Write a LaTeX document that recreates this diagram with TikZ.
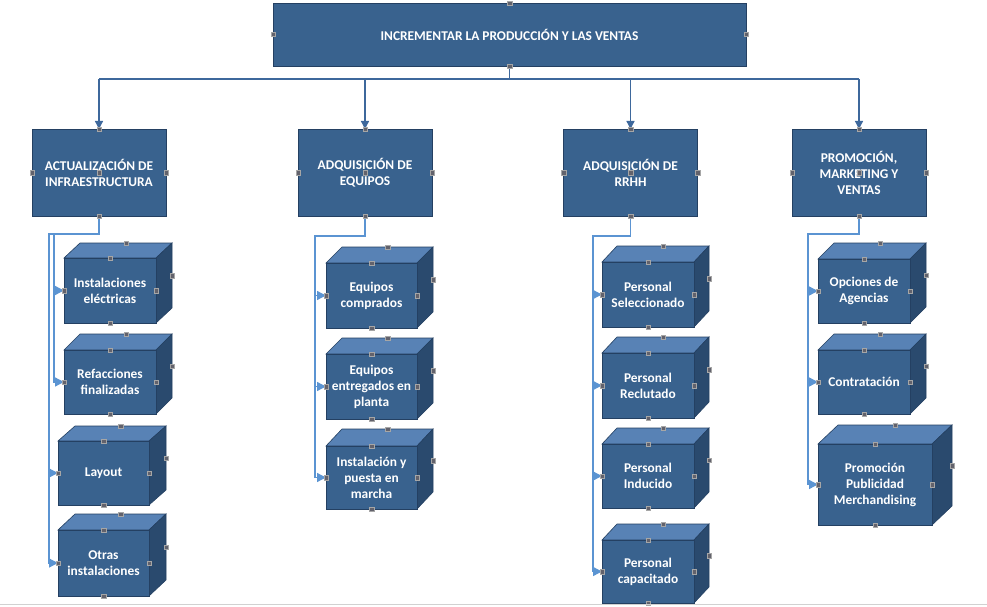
\documentclass[tikz,border=0pt]{standalone}
\usepackage{fontspec}
\setmainfont{Carlito}
\usetikzlibrary{arrows.meta}

\definecolor{faceblue}{RGB}{57,98,142}
\definecolor{topblue}{RGB}{88,130,181}
\definecolor{sideblue}{RGB}{42,74,110}
\definecolor{edgeblue}{RGB}{36,64,98}
\definecolor{mainlink}{RGB}{62,104,156}
\definecolor{sublink}{RGB}{91,148,210}
\definecolor{handlegray}{RGB}{98,98,108}

% small selection handle, centred on an anchor or on a coordinate
\newcommand{\handle}[1]{\fill[handlegray,draw=black!35,line width=0.4pt] ([shift={(-2.2,-2.2)}]#1) rectangle ++(4.4,4.4);}
\newcommand{\handleat}[2]{\fill[handlegray,draw=black!35,line width=0.4pt] ({#1-2.2},{#2-2.2}) rectangle ++(4.4,4.4);}

% 3-D block: name, x1, y1, x2, y2 (front face), depth dx, dy, text
\newcommand{\cubebox}[8]{%
  \fill[topblue,draw=edgeblue,line width=0.6pt] (#2,#3) -- ++(#6,-#7) -- ({#4+#6},{#3-#7}) -- (#4,#3) -- cycle;
  \fill[sideblue,draw=edgeblue,line width=0.6pt] (#4,#3) -- ++(#6,-#7) -- ({#4+#6},{#5-#7}) -- (#4,#5) -- cycle;
  \node[face, minimum width={(#4-#2)*1pt}, minimum height={(#5-#3)*1pt}] (#1) at ({(#2+#4)/2},{(#3+#5)/2}) {#8};
}
% handles of a 3-D block, drawn once all connectors are in place
\newcommand{\cubehandles}[7]{%
  \handle{#1.north}\handle{#1.south}\handle{#1.west}\handle{#1.east}
  \handleat{(#2+#4)/2+#6}{#3-#7}
  \handleat{#4+#6}{(#3+#5)/2-#7}
}

\tikzset{
  txt/.style={text=white, font=\fontsize{13.4}{16}\selectfont\bfseries, align=center},
  face/.style={txt, rectangle, fill=faceblue, draw=edgeblue, line width=0.6pt, inner sep=0pt, outer sep=0pt},
  goalbox/.style={face, minimum width=473pt, minimum height=63pt},
  areabox/.style={face, minimum width=134pt, minimum height=87pt},
  mainline/.style={draw=mainlink, line width=1.3pt},
  mainarrow/.style={mainline, -{Triangle[length=8pt,width=8pt]}},
  subarrow/.style={draw=sublink, line width=1.3pt, -{Triangle[length=9pt,width=9pt]}}
}

\begin{document}
\begin{tikzpicture}[x=1pt,y=-1pt]
\fill[white] (0,0) rectangle (987,607);
\useasboundingbox (0,0) rectangle (987,607);

% goal and the four areas
\node[goalbox] (goal) at (509.5,34.5) {INCREMENTAR LA PRODUCCIÓN Y LAS VENTAS};
\node[areabox] (p1) at (99,172.5) {ACTUALIZACIÓN DE\\INFRAESTRUCTURA};
\node[areabox] (p2) at (365,172.5) {ADQUISICIÓN DE\\EQUIPOS};
\node[areabox] (p3) at (630.5,172.5) {ADQUISICIÓN DE\\RRHH};
\node[areabox] (p4) at (859,172.5) {PROMOCIÓN,\\MARKETING Y\\VENTAS};

% distribution bar under the goal
\coordinate (bar) at (0,79);
\draw[mainline] (goal.south) -- (goal.south |- bar);
\draw[mainline] (p1.north |- bar) -- (p4.north |- bar);
\foreach \p in {p1,p2,p3,p4}{
  \draw[mainarrow] (\p.north |- bar) -- (\p.north);
}

% blocks of each area
\cubebox{k11}{64}{258}{156}{323}{16}{15}{Instalaciones\\eléctricas}
\cubebox{k12}{64}{350}{156}{414}{16}{16}{Refacciones\\finalizadas}
\cubebox{k13}{58}{441}{149}{505}{17}{15}{Layout}
\cubebox{k14}{58}{530}{149}{596}{17}{16}{Otras\\instalaciones}

\cubebox{k21}{326}{263}{417}{328}{16}{16}{Equipos\\comprados}
\cubebox{k22}{326}{354}{417}{419}{16}{16}{Equipos\\entregados en\\planta}
\cubebox{k23}{326}{446}{417}{509}{16}{17}{Instalación y\\puesta en\\marcha}

\cubebox{k31}{602}{262}{694}{327}{15}{16}{Personal\\Seleccionado}
\cubebox{k32}{602}{353}{694}{418}{15}{16}{Personal\\Reclutado}
\cubebox{k33}{602}{444}{694}{508}{15}{16}{Personal\\Inducido}
\cubebox{k34}{602}{540}{694}{603}{15}{16}{Personal\\capacitado}

\cubebox{k41}{818}{259}{910}{323}{16}{16}{Opciones de\\Agencias}
\cubebox{k42}{818}{350}{910}{414}{16}{16}{Contratación}
\cubebox{k43}{818}{444}{932}{525}{20}{19}{Promoción\\Publicidad\\Merchandising}

% elbow connectors from each area to its blocks
\coordinate (b1a) at (54,234);
\coordinate (b1b) at (49,234);
\coordinate (b2) at (315,236);
\coordinate (b3) at (593,236);
\coordinate (b4) at (808,234);
\draw[subarrow] (p1.south) |- (b1a) |- (k11.west);
\draw[subarrow] (p1.south) |- (b1a) |- (k12.west);
\draw[subarrow] (p1.south) |- (b1b) |- (k13.west);
\draw[subarrow] (p1.south) |- (b1b) |- (k14.west);
\foreach \k in {k21,k22,k23}{\draw[subarrow] (p2.south) |- (b2) |- (\k.west);}
\foreach \k in {k31,k32,k33,k34}{\draw[subarrow] (p3.south) |- (b3) |- (\k.west);}
\foreach \k in {k41,k42,k43}{\draw[subarrow] (p4.south) |- (b4) |- (\k.west);}

% handles of all shapes
\foreach \a in {north,south,west,east}{\handle{goal.\a}}
\foreach \p in {p1,p2,p3,p4}{
  \foreach \a in {north,south,west,east,center}{\handle{\p.\a}}
}
\cubehandles{k11}{64}{258}{156}{323}{16}{15}
\cubehandles{k12}{64}{350}{156}{414}{16}{16}
\cubehandles{k13}{58}{441}{149}{505}{17}{15}
\cubehandles{k14}{58}{530}{149}{596}{17}{16}
\cubehandles{k21}{326}{263}{417}{328}{16}{16}
\cubehandles{k22}{326}{354}{417}{419}{16}{16}
\cubehandles{k23}{326}{446}{417}{509}{16}{17}
\cubehandles{k31}{602}{262}{694}{327}{15}{16}
\cubehandles{k32}{602}{353}{694}{418}{15}{16}
\cubehandles{k33}{602}{444}{694}{508}{15}{16}
\cubehandles{k34}{602}{540}{694}{603}{15}{16}
\cubehandles{k41}{818}{259}{910}{323}{16}{16}
\cubehandles{k42}{818}{350}{910}{414}{16}{16}
\cubehandles{k43}{818}{444}{932}{525}{20}{19}

% bottom rule
\draw[black!18, line width=1.6pt] (0,604.5) -- (987,604.5);
\end{tikzpicture}
\end{document}
